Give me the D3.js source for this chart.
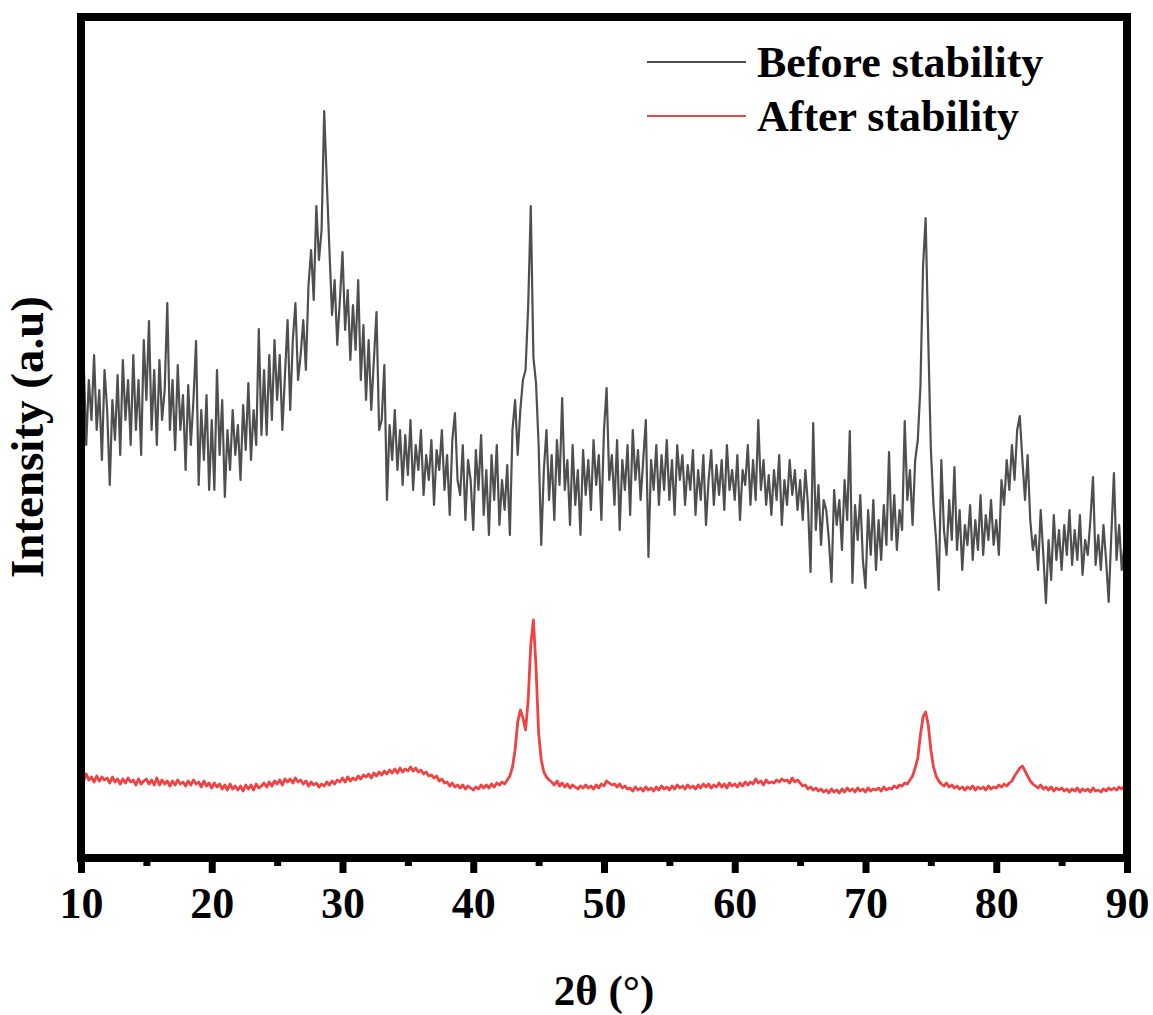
<!DOCTYPE html>
<html>
<head>
<meta charset="utf-8">
<script src="https://cdn.jsdelivr.net/npm/d3@7"></script>
<style>
  html, body { margin: 0; padding: 0; background: #fff; }
  svg { display: block; }
  text { font-family: "Liberation Serif", "Times New Roman", serif; font-weight: bold; fill: #000; }
</style>
</head>
<body>
<script>
// 2θ sampling grid: 10° .. 90° every 0.2° (401 points)
const thetaStart = 10, thetaStep = 0.2, thetaCount = 401;
const xTicks = [10, 20, 30, 40, 50, 60, 70, 80, 90];
const xMinorTicks = [15, 25, 35, 45, 55, 65, 75, 85];
const seriesNames = ["Before stability", "After stability"];
const seriesColors = ["#4f4f4f", "#ef4242"];

// intensity (a.u.), one row per degree (x.0, x.2, x.4, x.6, x.8)
const beforeStability = [
  470, 540, 455, 520, 480, // 10
  545, 470, 510, 440, 530,
  490, 415, 500, 460, 525,
  445, 540, 480, 520, 455,
  545, 470, 520, 445, 560,
  500, 579, 470, 530, 455, // 15
  540, 480, 510, 597, 470,
  520, 450, 535, 470, 505,
  430, 515, 455, 500, 559,
  415, 490, 440, 505, 410,
  480, 410, 530, 445, 500, // 20
  403, 470, 430, 490, 445,
  475, 420, 495, 450, 517,
  440, 490, 455, 571, 465,
  530, 465, 545, 480, 560,
  500, 545, 470, 525, 580, // 25
  490, 560, 597, 520, 545,
  580, 530, 615, 650, 600,
  694, 640, 670, 789, 718,
  650, 585, 620, 555, 600,
  648, 570, 610, 540, 595, // 30
  550, 620, 520, 575, 500,
  560, 490, 540, 588, 470,
  480, 535, 400, 475, 440,
  490, 430, 470, 415, 465,
  425, 480, 410, 455, 430, // 35
  470, 405, 445, 420, 460,
  395, 450, 430, 470, 410,
  445, 385, 460, 487, 420,
  405, 455, 380, 440, 420,
  370, 450, 410, 465, 385, // 40
  430, 365, 445, 400, 455,
  375, 420, 390, 435, 365,
  470, 500, 445, 490, 520,
  530, 593, 694, 543, 517,
  455, 355, 430, 470, 400, // 45
  445, 380, 460, 415, 502,
  410, 440, 375, 455, 395,
  430, 365, 450, 405, 440,
  390, 460, 415, 445, 380,
  470, 512, 420, 445, 395, // 50
  460, 370, 440, 410, 455,
  385, 470, 420, 450, 400,
  440, 480, 343, 440, 410,
  455, 395, 445, 410, 460,
  400, 440, 385, 455, 420, // 55
  445, 395, 435, 410, 450,
  385, 430, 400, 445, 375,
  420, 450, 395, 435, 405,
  440, 390, 455, 410, 430,
  400, 445, 380, 430, 415, // 60
  455, 395, 440, 400, 480,
  410, 440, 395, 425, 385,
  430, 400, 445, 375, 420,
  395, 440, 405, 430, 390,
  420, 380, 430, 395, 328, // 65
  477, 370, 415, 355, 400,
  390, 360, 318, 410, 375,
  400, 350, 420, 380, 469,
  317, 395, 360, 405, 340,
  312, 390, 345, 400, 330, // 70
  380, 340, 395, 355, 448,
  360, 405, 350, 390, 370,
  479, 400, 430, 375, 440,
  460, 513, 633, 682, 560,
  450, 395, 360, 310, 440, // 75
  370, 345, 400, 360, 433,
  350, 390, 330, 375, 355,
  395, 340, 380, 350, 405,
  345, 385, 360, 400, 355,
  380, 345, 420, 395, 440, // 80
  410, 455, 420, 470, 484,
  440, 400, 445, 380, 350,
  365, 330, 390, 345, 297,
  360, 320, 385, 340, 370,
  330, 375, 345, 390, 335, // 85
  370, 340, 385, 325, 360,
  345, 380, 423, 335, 365,
  330, 375, 340, 298, 365,
  427, 340, 375, 330, 355,
  320                      // 90
];

const afterStability = [
  124, 119, 126, 120, 123, // 10
  118, 124, 119, 123, 120,
  122, 117, 123, 118, 121,
  116, 121, 117, 122, 118,
  120, 115, 121, 116, 119,
  121, 116, 120, 115, 122, // 15
  115, 120, 116, 119, 114,
  119, 115, 120, 116, 118,
  114, 119, 115, 120, 116,
  118, 113, 119, 114, 117,
  112, 117, 113, 116, 111, // 20
  115, 110, 116, 111, 114,
  110, 114, 109, 115, 111,
  115, 110, 116, 112, 114,
  117, 113, 118, 114, 119,
  116, 120, 115, 121, 118, // 25
  121, 117, 122, 118, 120,
  116, 119, 114, 118, 115,
  117, 113, 116, 114, 118,
  115, 119, 116, 120, 118,
  122, 118, 123, 119, 122, // 30
  120, 124, 121, 125, 123,
  126, 122, 127, 124, 128,
  125, 129, 126, 130, 127,
  131, 127, 132, 128, 131,
  129, 133, 129, 132, 128, // 35
  130, 126, 128, 124, 125,
  122, 124, 119, 121, 117,
  118, 114, 117, 113, 115,
  112, 115, 111, 114, 112,
  110, 113, 111, 115, 112, // 40
  115, 112, 116, 113, 117,
  115, 118, 116, 120, 124,
  133, 150, 178, 190, 182,
  170, 200, 255, 280, 233,
  167, 140, 128, 123, 120, // 45
  118, 115, 119, 114, 117,
  113, 116, 112, 115, 113,
  111, 114, 112, 115, 112,
  114, 111, 115, 112, 116,
  114, 119, 117, 115, 116, // 50
  113, 116, 112, 114, 111,
  112, 109, 113, 110, 112,
  109, 113, 110, 112, 109,
  113, 110, 114, 111, 113,
  110, 114, 111, 115, 112, // 55
  114, 111, 115, 112, 114,
  111, 115, 112, 116, 113,
  116, 112, 115, 113, 117,
  113, 116, 112, 117, 114,
  116, 113, 117, 114, 118, // 60
  115, 118, 116, 121, 117,
  119, 115, 120, 117, 118,
  117, 120, 118, 121, 119,
  120, 117, 122, 118, 120,
  117, 114, 115, 111, 113, // 65
  110, 112, 109, 111, 108,
  110, 107, 111, 108, 110,
  107, 111, 108, 112, 109,
  111, 108, 112, 109, 111,
  108, 112, 109, 111, 110, // 70
  112, 109, 113, 110, 112,
  111, 114, 112, 115, 114,
  117, 116, 120, 124, 132,
  142, 165, 183, 188, 175,
  150, 133, 124, 119, 116, // 75
  114, 117, 113, 115, 112,
  114, 111, 113, 110, 113,
  111, 114, 110, 113, 111,
  113, 110, 114, 111, 113,
  112, 115, 113, 116, 114, // 80
  117, 119, 124, 128, 132,
  134, 129, 124, 119, 116,
  114, 112, 115, 111, 113,
  110, 113, 109, 112, 110,
  112, 109, 111, 108, 111, // 85
  109, 112, 108, 111, 109,
  111, 108, 112, 109, 110,
  108, 111, 109, 112, 110,
  112, 110, 113, 111, 114,
  118                      // 90
];

const width = 1153, height = 1015;
const margin = { left: 81, right: 26, top: 17, bottom: 157 };
const plotW = width - margin.left - margin.right;
const plotH = height - margin.top - margin.bottom;

const svg = d3.select("body").append("svg")
  .attr("width", width)
  .attr("height", height);

const x = d3.scaleLinear().domain([10, 90]).range([margin.left, margin.left + plotW]);
const y = d3.scaleLinear().domain([42, 883]).range([margin.top + plotH, margin.top]);

const thetas = d3.range(thetaCount).map(i => thetaStart + i * thetaStep);

svg.append("clipPath").attr("id", "plotClip")
  .append("rect")
  .attr("x", margin.left).attr("y", margin.top)
  .attr("width", plotW).attr("height", plotH);

const line = d3.line()
  .x(d => x(d[0]))
  .y(d => y(d[1]));

// draw the curves
const strokeWidths = [2.2, 2.8];
[beforeStability, afterStability].forEach((vals, k) => {
  svg.append("path")
    .datum(vals.map((v, i) => [thetas[i], v]))
    .attr("clip-path", "url(#plotClip)")
    .attr("fill", "none")
    .attr("stroke", seriesColors[k])
    .attr("stroke-width", strokeWidths[k])
    .attr("stroke-linejoin", "round")
    .attr("d", line);
});

// bottom axis with major + minor ticks
const xAxis = svg.append("g")
  .attr("transform", `translate(0,${margin.top + plotH})`)
  .call(d3.axisBottom(x).tickValues(xTicks).tickFormat(d3.format("d")).tickSize(15).tickPadding(14));
xAxis.select(".domain").remove();
xAxis.selectAll(".tick line").attr("stroke", "#000").attr("stroke-width", 7);
xAxis.selectAll(".tick text")
  .style("font-size", "44px")
  .style("font-family", "'Liberation Serif', serif")
  .style("font-weight", "bold");

const xMinor = svg.append("g")
  .attr("transform", `translate(0,${margin.top + plotH})`)
  .call(d3.axisBottom(x).tickValues(xMinorTicks).tickFormat("").tickSize(8));
xMinor.select(".domain").remove();
xMinor.selectAll(".tick line").attr("stroke", "#000").attr("stroke-width", 7);

// frame
svg.append("rect")
  .attr("x", margin.left).attr("y", margin.top)
  .attr("width", plotW).attr("height", plotH)
  .attr("fill", "none")
  .attr("stroke", "#000")
  .attr("stroke-width", 8);

// axis titles
svg.append("text")
  .attr("x", x(50))
  .attr("y", 1005)
  .attr("text-anchor", "middle")
  .style("font-size", "43px")
  .text("2θ (°)");

svg.append("text")
  .attr("transform", `translate(43,${437}) rotate(-90)`)
  .attr("text-anchor", "middle")
  .style("font-size", "47px")
  .text("Intensity (a.u)");

// legend
const legend = svg.append("g");
seriesNames.forEach((name, k) => {
  const ly = 62 + k * 54;
  legend.append("line")
    .attr("x1", 647).attr("x2", 746)
    .attr("y1", ly).attr("y2", ly)
    .attr("stroke", seriesColors[k])
    .attr("stroke-width", 2);
  legend.append("text")
    .attr("x", 757)
    .attr("y", ly + 15)
    .style("font-size", "44px")
    .text(name);
});
</script>
</body>
</html>
